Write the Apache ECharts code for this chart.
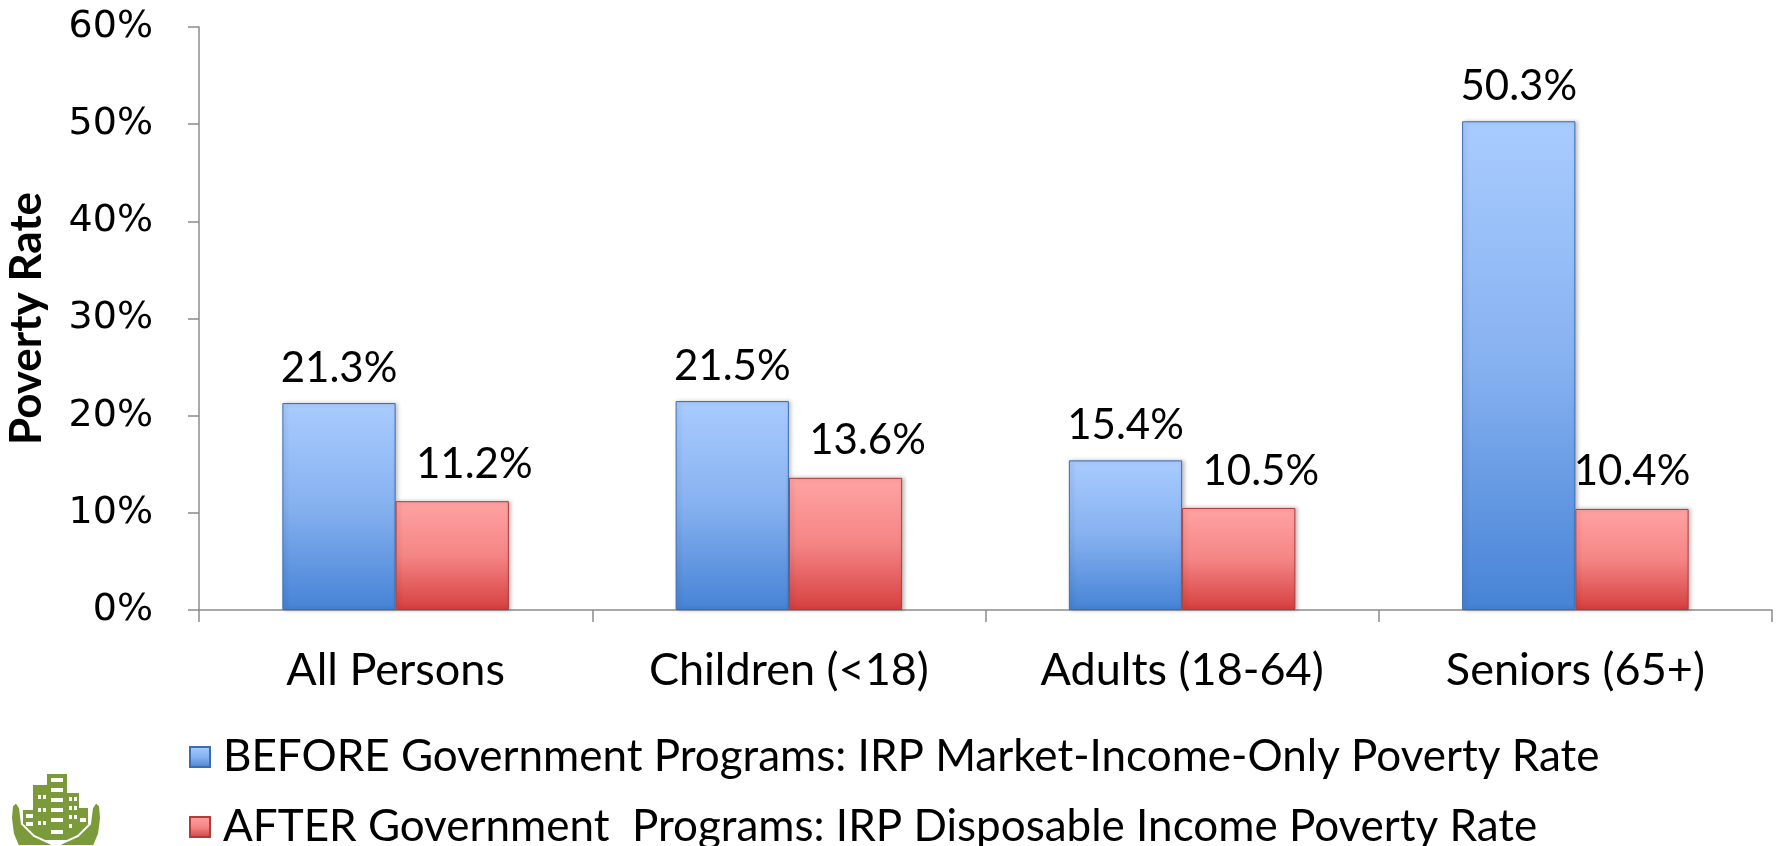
<!DOCTYPE html>
<html lang="en">
<head>
    <meta charset="UTF-8">
    <title>Poverty rate before and after government programs</title>
    <script src="https://cdn.jsdelivr.net/npm/echarts@6/dist/echarts.min.js"></script>
    <style>
        html, body { margin: 0; padding: 0; background: #fff; }
        #main { width: 1781px; height: 846px; }
    </style>
</head>
<body>
<div id="main"></div>
<script>
    // chart data
    var categories = ['All Persons', 'Children (<18)', 'Adults (18-64)', 'Seniors (65+)'];
    var beforeRates = [21.3, 21.5, 15.4, 50.3];
    var afterRates = [11.2, 13.6, 10.5, 10.4];
    var beforeName = 'BEFORE Government Programs: IRP Market-Income-Only Poverty Rate';
    var afterName = 'AFTER Government  Programs: IRP Disposable Income Poverty Rate';

    var chart = echarts.init(document.getElementById('main'));

    var blueFill = new echarts.graphic.LinearGradient(0, 0, 0, 1, [
        {offset: 0, color: '#a9ccff'},
        {offset: 0.5, color: '#86b1f0'},
        {offset: 1, color: '#4683d6'}
    ]);
    var redFill = new echarts.graphic.LinearGradient(0, 0, 0, 1, [
        {offset: 0, color: '#ffa3a3'},
        {offset: 0.5, color: '#f58585'},
        {offset: 1, color: '#d63f3f'}
    ]);

    // small logo in the bottom-left corner
    var green = '#7b9a3a';
    var logo = [
        {type: 'rect', shape: {x: 47, y: 774, width: 20, height: 66}, style: {fill: green}},
        {type: 'rect', shape: {x: 33, y: 785, width: 16, height: 55}, style: {fill: green}},
        {type: 'rect', shape: {x: 65, y: 793, width: 14, height: 47}, style: {fill: green}},
        {type: 'rect', shape: {x: 23, y: 810, width: 12, height: 30}, style: {fill: green}},
        {type: 'rect', shape: {x: 77, y: 808, width: 11, height: 32}, style: {fill: green}}
    ];
    var wins = [[51, 778, 12], [51, 788, 12], [51, 798, 12], [51, 808, 12], [51, 818, 12], [51, 830, 12],
        [38, 795, 3], [43, 795, 3], [38, 808, 3], [43, 808, 3], [38, 821, 3], [43, 821, 3],
        [69, 797, 3], [74, 797, 3], [69, 806, 3], [74, 806, 3], [69, 815, 3], [74, 815, 3], [69, 824, 3],
        [26, 814, 7], [26, 822, 7], [80, 818, 6]];
    wins.forEach(function (w) {
        logo.push({type: 'rect', shape: {x: w[0], y: w[1], width: w[2], height: 4}, style: {fill: '#ffffff'}});
    });
    logo.push({type: 'polygon', shape: {points: [[12, 806], [16, 802], [20, 808], [22, 824], [34, 836],
        [56, 846], [18, 846], [13, 834], [11, 818]]}, style: {fill: green, stroke: '#fff', lineWidth: 2}});
    logo.push({type: 'polygon', shape: {points: [[100, 806], [96, 802], [92, 808], [90, 824], [78, 836],
        [56, 846], [94, 846], [99, 834], [101, 818]]}, style: {fill: green, stroke: '#fff', lineWidth: 2}});

    var option = {
        animation: false,
        textStyle: {fontFamily: 'Lato'},
        grid: {left: 199, right: 9, top: 27, bottom: 236, containLabel: false, outerBoundsMode: 'none'},
        legend: [
            {
                data: [beforeName],
                left: 184, top: 730,
                itemWidth: 20, itemHeight: 20, itemGap: 10,
                icon: 'rect',
                textStyle: {fontFamily: 'Lato', fontSize: 44, color: '#000', padding: [0, 0, 0, 8]}
            },
            {
                data: [afterName],
                left: 184, top: 800,
                itemWidth: 20, itemHeight: 20, itemGap: 10,
                icon: 'rect',
                textStyle: {fontFamily: 'Lato', fontSize: 44, color: '#000', padding: [0, 0, 0, 8]}
            }
        ],
        xAxis: {
            type: 'category',
            data: categories,
            axisLine: {lineStyle: {color: '#8c8c8c', width: 1.5}},
            axisTick: {show: true, length: 12, lineStyle: {color: '#8c8c8c', width: 1.5}},
            axisLabel: {fontFamily: 'Lato', fontSize: 45, color: '#000', margin: 38}
        },
        yAxis: {
            type: 'value',
            min: 0, max: 60, interval: 10,
            name: 'Poverty Rate',
            nameLocation: 'middle',
            nameGap: 150,
            nameTextStyle: {fontFamily: 'Lato', fontWeight: 'bold', fontSize: 44, color: '#000'},
            axisLine: {show: true, lineStyle: {color: '#8c8c8c', width: 1.5}},
            axisTick: {show: true, length: 11, lineStyle: {color: '#8c8c8c', width: 1.5}},
            splitLine: {show: false},
            axisLabel: {formatter: '{value}%', fontFamily: 'DejaVu Sans', fontSize: 38, color: '#000', margin: 46}
        },
        series: [
            {
                name: beforeName,
                type: 'bar',
                data: beforeRates,
                barWidth: '28.8%',
                barGap: '0%',
                itemStyle: {color: blueFill, borderColor: '#3a6db3', borderWidth: 1,
                    shadowColor: 'rgba(0,0,0,0.25)', shadowBlur: 4, shadowOffsetX: 2},
                label: {show: true, position: 'top', distance: 14, formatter: '{c}%',
                    fontFamily: 'Lato', fontSize: 42, color: '#000'}
            },
            {
                name: afterName,
                type: 'bar',
                // labels of the short bars sit a little to the right, as in the original
                data: afterRates.map(function (v, i) {
                    return {value: v, label: {offset: [i < 3 ? 22 : 0, 0]}};
                }),
                barWidth: '28.8%',
                itemStyle: {color: redFill, borderColor: '#b23a3a', borderWidth: 1,
                    shadowColor: 'rgba(0,0,0,0.25)', shadowBlur: 4, shadowOffsetX: 2},
                label: {show: true, position: 'top', distance: 16, formatter: '{c}%',
                    fontFamily: 'Lato', fontSize: 42, color: '#000'}
            }
        ],
        graphic: logo
    };
    chart.setOption(option);
</script>
</body>
</html>
